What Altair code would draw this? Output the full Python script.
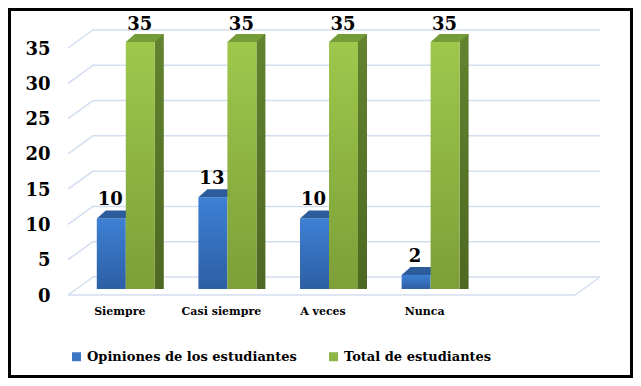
import altair as alt
import pandas as pd

categories = ["Siempre", "Casi siempre", "A veces", "Nunca"]
opiniones = [10, 13, 10, 2]
total = [35, 35, 35, 35]
series = ["Opiniones de los estudiantes", "Total de estudiantes"]
y_ticks = [0, 5, 10, 15, 20, 25, 30, 35]
x_domain = categories + [" "]

rows = []
for c, a, b in zip(categories, opiniones, total):
    rows.append({"cat": c, "serie": series[0], "v": a})
    rows.append({"cat": c, "serie": series[1], "v": b})
df = pd.DataFrame(rows)
grid = pd.DataFrame({"v": y_ticks})
leg = pd.DataFrame({"serie": series})
one = pd.DataFrame({"a": [0]})

FONT = "DejaVu Serif"
GC = "#D3DEF0"
xs = alt.Scale(domain=x_domain, paddingInner=0, paddingOuter=0)
ys = alt.Scale(domain=[0, 35], nice=False)

X = alt.X("cat:N", scale=xs, sort=x_domain,
          axis=alt.Axis(title=None, domain=False, ticks=False, labelAngle=0,
                        labelFont=FONT, labelFontSize=11, labelFontWeight="bold",
                        labelColor="black", labelPadding=16, labelOffset=-6))
Y = alt.Y("v:Q", scale=ys,
          axis=alt.Axis(title=None, values=y_ticks, domain=False, ticks=False, tickSize=0,
                        grid=False, labelFont=FONT, labelFontSize=18, labelFontWeight="bold",
                        labelColor="black", labelPadding=25, labelOffset=7))

def grad(top, bottom):
    return alt.Gradient(gradient="linear", x1=0, x2=0, y1=0, y2=1,
                        stops=[alt.GradientStop(color=top, offset=0),
                               alt.GradientStop(color=bottom, offset=1)])

TOP_PATH = "M -1 0.2105 L 0.5263 0.2105 L 1 -0.2105 L -0.5263 -0.2105 Z"

back = alt.Chart(grid).mark_rule(color=GC, strokeWidth=1.5, yOffset=-12).encode(
    y=Y, x=alt.value(17), x2=alt.value(525))
diag = alt.Chart(grid).mark_rule(color=GC, strokeWidth=1.5, yOffset=6, y2Offset=-12).encode(
    y=Y, y2=alt.Y2("v"), x=alt.value(-7), x2=alt.value(18))
floor_front = alt.Chart(grid).transform_filter("datum.v == 0").mark_rule(
    color=GC, strokeWidth=1.5, yOffset=6).encode(y=Y, x=alt.value(-7), x2=alt.value(500))
floor_right = alt.Chart(grid).transform_filter("datum.v == 0").mark_rule(
    color=GC, strokeWidth=1.5, yOffset=6, y2Offset=-12).encode(
    y=Y, y2=alt.Y2("v"), x=alt.value(500), x2=alt.value(525))

blue = alt.Chart(df).transform_filter(alt.datum.serie == series[0])
green = alt.Chart(df).transform_filter(alt.datum.serie == series[1])

blue_front = blue.mark_bar(width=29, xOffset=-14.5, color=grad("#3E80D4", "#2D5FA4")).encode(
    x=X, y=Y, y2=alt.Y2(datum=0))
blue_top = blue.mark_point(shape=TOP_PATH, size=1444, filled=True, opacity=1,
                           color="#2C5C9B", strokeWidth=0, xOffset=-10, yOffset=-4).encode(x=X, y=Y)

green_side = green.mark_bar(width=9, xOffset=33.5, yOffset=-8, y2Offset=0,
                            color=grad("#63832F", "#4D6822")).encode(x=X, y=Y, y2=alt.Y2(datum=0))
green_front = green.mark_bar(width=29, xOffset=14.5, color=grad("#9DC84C", "#7C9F38")).encode(
    x=X, y=Y, y2=alt.Y2(datum=0))
green_top = green.mark_point(shape=TOP_PATH, size=1444, filled=True, opacity=1,
                             color="#749C38", strokeWidth=0, xOffset=19, yOffset=-4).encode(x=X, y=Y)

blue_lbl = blue.mark_text(font=FONT, fontSize=18, fontWeight="bold", color="black",
                          baseline="alphabetic", dx=-15.5, dy=-13).encode(x=X, y=Y, text="v:Q")
green_lbl = green.mark_text(font=FONT, fontSize=18, fontWeight="bold", color="black",
                            baseline="alphabetic", dx=14, dy=-12).encode(x=X, y=Y, text="v:Q")

legend_layer = alt.Chart(leg).mark_square(opacity=0, size=81).encode(
    color=alt.Color("serie:N", scale=alt.Scale(domain=series, range=["#3C76C4", "#8DB646"]),
                    legend=alt.Legend(title=None, orient="none", legendX=-5, legendY=308,
                                      direction="horizontal", columns=2, symbolType="square",
                                      symbolSize=81, symbolOpacity=1, symbolStrokeWidth=0,
                                      labelFont=FONT, labelFontSize=13, labelFontWeight="bold",
                                      labelColor="black", labelLimit=400, columnPadding=30,
                                      labelOffset=4, padding=0)))

border = alt.Chart(one).mark_rect(filled=False, color="black", strokeWidth=3).encode(
    x=alt.value(-65.5), x2=alt.value(556.5), y=alt.value(-32.5), y2=alt.value(334.5))

chart = alt.layer(
    back, diag, floor_front, floor_right,
    blue_front, blue_top, green_side, green_front, green_top,
    blue_lbl, green_lbl, legend_layer, border
).properties(
    width=508, height=247,
    padding={"left": 67, "top": 34, "right": 50, "bottom": 89},
    autosize=alt.AutoSizeParams(type="none"),
).configure_view(stroke=None)

chart.save("out.html", embed_options={"renderer": "svg", "actions": False})
